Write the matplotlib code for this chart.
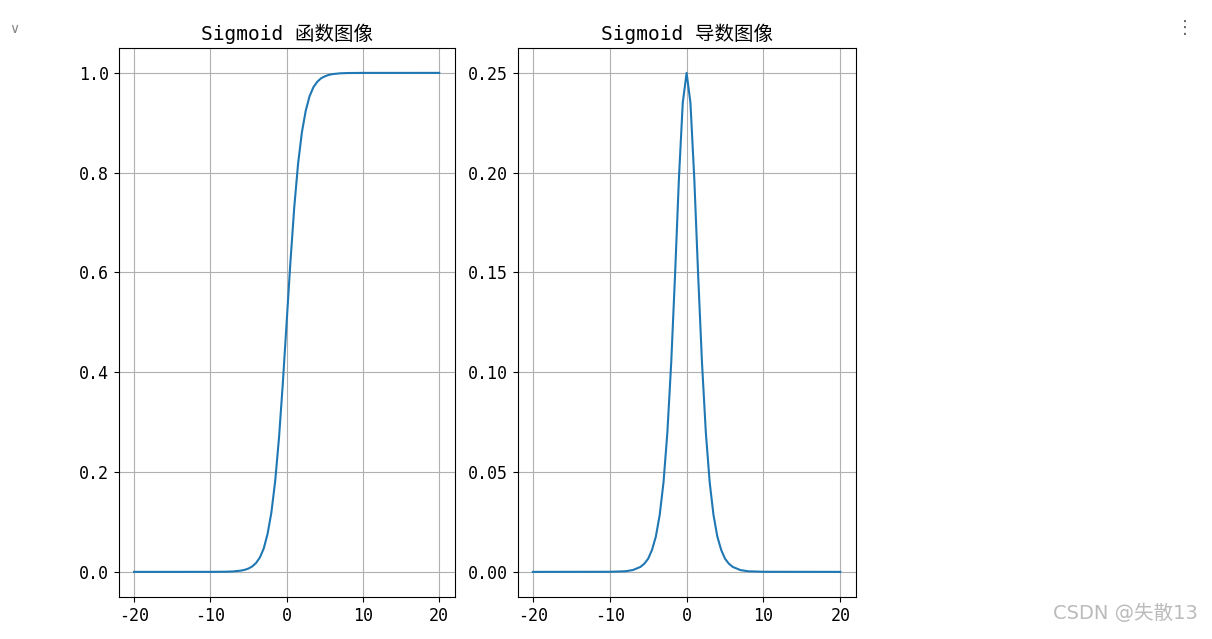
import matplotlib
matplotlib.use("Agg")
import matplotlib.pyplot as plt

plt.rcParams['font.family'] = ['DejaVu Sans Mono', 'Noto Sans CJK SC']
plt.rcParams['axes.unicode_minus'] = False

x_vals = [-20, -10, -8, -7, -6, -5.5, -5, -4.5, -4, -3.5, -3, -2.5, -2, -1.5, -1, -0.5, 0,
          0.5, 1, 1.5, 2, 2.5, 3, 3.5, 4, 4.5, 5, 5.5, 6, 7, 8, 10, 20]
sig_vals = [0.0, 0.00005, 0.0003, 0.0009, 0.0025, 0.0041, 0.0067, 0.011, 0.018, 0.029, 0.047, 0.076,
            0.119, 0.182, 0.269, 0.378, 0.5, 0.622, 0.731, 0.818, 0.881, 0.924, 0.953, 0.971, 0.982,
            0.989, 0.993, 0.9959, 0.9975, 0.9991, 0.9997, 0.99995, 1.0]
der_vals = [0.0, 0.00005, 0.0003, 0.0009, 0.0025, 0.0041, 0.0066, 0.011, 0.0177, 0.0285, 0.045, 0.070,
            0.105, 0.149, 0.197, 0.235, 0.25, 0.235, 0.197, 0.149, 0.105, 0.070, 0.045, 0.0285, 0.0177,
            0.011, 0.0066, 0.0041, 0.0025, 0.0009, 0.0003, 0.00005, 0.0]
titles = ['Sigmoid 函数图像', 'Sigmoid 导数图像']

fig = plt.figure(figsize=(12.12, 6.39), dpi=100)
ax1 = fig.add_axes([0.098, 0.066, 0.277, 0.859])
ax2 = fig.add_axes([0.427, 0.066, 0.279, 0.859])
for ax, y, t in [(ax1, sig_vals, titles[0]), (ax2, der_vals, titles[1])]:
    ax.plot(x_vals, y, color='#1f77b4', linewidth=1.5)
    ax.set_title(t, fontsize=14)
    ax.grid(True)
    ax.set_xticks([-20, -10, 0, 10, 20])
    ax.tick_params(labelsize=12)
ax1.set_yticks([0, 0.2, 0.4, 0.6, 0.8, 1.0])
ax2.set_yticks([0, 0.05, 0.10, 0.15, 0.20, 0.25])
ax2.set_yticklabels(['0.00', '0.05', '0.10', '0.15', '0.20', '0.25'])

fig.text(0.988, 0.025, 'CSDN @失散13', ha='right', va='bottom', fontsize=14, color='#bbbbbb',
         family=['DejaVu Sans', 'Noto Sans CJK SC'])
fig.text(0.985, 0.97, '⋮', ha='right', va='top', fontsize=13, color='#666666', family=['DejaVu Sans'])
fig.text(0.008, 0.965, '∨', ha='left', va='top', fontsize=10, color='#888888', family=['DejaVu Sans'])
fig.savefig('out.png', dpi=100)
